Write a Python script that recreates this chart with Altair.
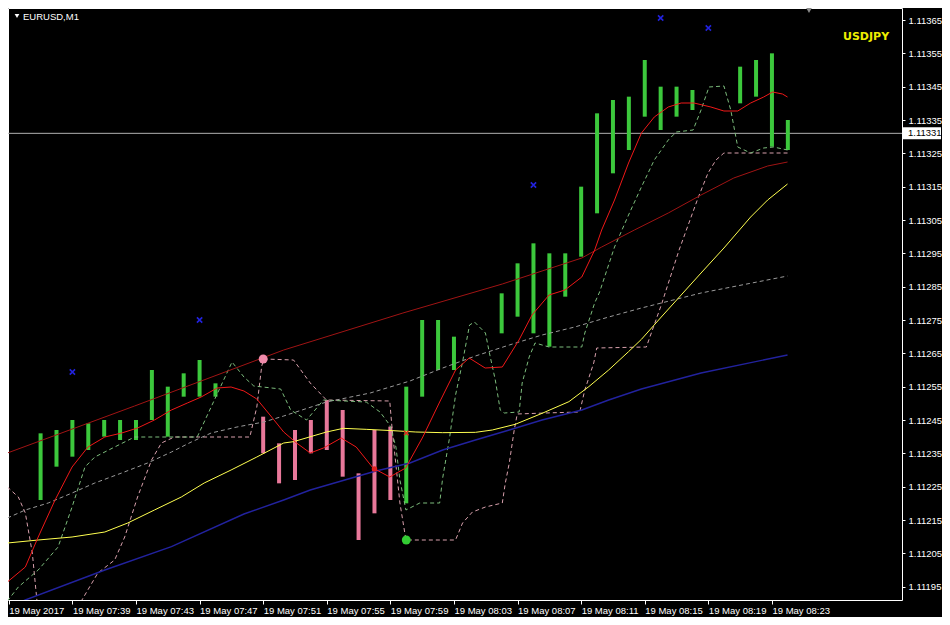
import json
import altair as alt
import pandas as pd

# ---------------- data (time = minutes after 19 May 2017 07:35, price = EURUSD) ----------------
x_tick_minutes = [0, 4, 8, 12, 16, 20, 24, 28, 32, 36, 40, 44, 48]
x_tick_labels = ["19 May 2017", "19 May 07:39", "19 May 07:43", "19 May 07:47", "19 May 07:51",
                 "19 May 07:55", "19 May 07:59", "19 May 08:03", "19 May 08:07", "19 May 08:11",
                 "19 May 08:15", "19 May 08:19", "19 May 08:23"]
y_ticks = [1.11195, 1.11205, 1.11215, 1.11225, 1.11235, 1.11245, 1.11255, 1.11265, 1.11275,
           1.11285, 1.11295, 1.11305, 1.11315, 1.11325, 1.11335, 1.11345, 1.11355, 1.11365]

bar_time = [2, 3, 4, 5, 6, 7, 8, 9, 10, 11, 12, 13, 16, 17, 18, 19, 20, 21, 22, 23, 24, 25, 26, 27, 28,
            31, 32, 33, 34, 35, 36, 37, 38, 39, 40, 41, 42, 43, 46, 47, 48, 49]
bar_open = [1.11221, 1.11231, 1.11234, 1.11236, 1.11240, 1.11239, 1.11239, 1.11245, 1.11240, 1.11252,
            1.11252, 1.11252, 1.11246, 1.11238, 1.11242, 1.11245, 1.11251, 1.11248, 1.11229, 1.11242,
            1.11243, 1.11220, 1.11252, 1.11260, 1.11260, 1.11271, 1.11276, 1.11271, 1.11267, 1.11282,
            1.11294, 1.11307, 1.11319, 1.11326, 1.11336, 1.11332, 1.11336, 1.11338, 1.11340, 1.11342,
            1.11327, 1.11326]
bar_close = [1.11241, 1.11242, 1.11245, 1.11244, 1.11245, 1.11245, 1.11245, 1.11260, 1.11255, 1.11259,
             1.11263, 1.11256, 1.11235, 1.11226, 1.11227, 1.11235, 1.11236, 1.11228, 1.11209, 1.11217,
             1.11221, 1.11255, 1.11275, 1.11275, 1.11270, 1.11283, 1.11292, 1.11298, 1.11295, 1.11295,
             1.11315, 1.11337, 1.11341, 1.11342, 1.11353, 1.11345, 1.11345, 1.11344, 1.11351, 1.11353,
             1.11355, 1.11335]

red_t = [-0.09, 1.04, 1.85, 2.91, 3.98, 4.98, 6.04, 7.10, 8.10, 9.16, 10.23, 11.23, 12.10, 13.10, 13.98,
         14.79, 15.60, 16.48, 17.29, 18.10, 18.96, 19.79, 20.91, 21.85, 22.91, 23.96, 24.96, 26.04, 27.10,
         28.10, 28.96, 29.96, 31.04, 32.09, 32.91, 33.98, 34.98, 36.04, 36.85, 37.29, 38.10, 38.98, 39.79,
         40.60, 41.48, 42.29, 43.10, 44.16, 44.98, 45.85, 46.66, 47.48, 48.04, 48.66, 48.98]
red_p = [1.111964, 1.112009, 1.112099, 1.112210, 1.112309, 1.112369, 1.112399, 1.112411, 1.112426, 1.112450,
         1.112480, 1.112501, 1.112519, 1.112546, 1.112549, 1.112537, 1.112513, 1.112462, 1.112414, 1.112381,
         1.112351, 1.112366, 1.112396, 1.112369, 1.112306, 1.112279, 1.112306, 1.112399, 1.112504, 1.112600,
         1.112636, 1.112606, 1.112609, 1.112690, 1.112765, 1.112825, 1.112840, 1.112879, 1.112960, 1.113020,
         1.113110, 1.113221, 1.113311, 1.113359, 1.113389, 1.113401, 1.113401, 1.113389, 1.113377, 1.113377,
         1.113401, 1.113419, 1.113434, 1.113428, 1.113419]

darkred_t = [-0.09, 7.91, 17.29, 24.79, 31.04, 36.04, 37.29, 39.35, 41.48, 43.54, 45.60, 47.73, 48.98]
darkred_p = [1.112351, 1.112492, 1.112660, 1.112771, 1.112858, 1.112936, 1.112969, 1.113020, 1.113071,
             1.113125, 1.113176, 1.113212, 1.113224]

yellow_t = [-0.09, 1.85, 3.98, 6.04, 7.48, 9.16, 10.85, 12.29, 13.98, 15.60, 17.29, 17.91, 19.98, 21.04,
            22.48, 24.16, 25.60, 27.29, 29.35, 30.41, 31.85, 33.54, 35.23, 36.48, 37.73, 38.98, 39.79,
            41.04, 43.54, 44.98, 46.66, 47.73, 48.98]
yellow_p = [1.112081, 1.112090, 1.112099, 1.112114, 1.112141, 1.112180, 1.112219, 1.112261, 1.112300,
            1.112339, 1.112381, 1.112385, 1.112414, 1.112425, 1.112422, 1.112418, 1.112414, 1.112412,
            1.112413, 1.112420, 1.112437, 1.112470, 1.112505, 1.112550, 1.112600, 1.112655, 1.112692,
            1.112759, 1.112891, 1.112966, 1.113059, 1.113110, 1.113158]

blue_t = [-0.09, 1.04, 6.04, 10.23, 14.79, 17.29, 18.96, 23.09, 25.23, 27.29, 29.35, 31.48, 33.54, 36.04,
          37.73, 39.79, 43.54, 48.98]
blue_p = [1.111889, 1.111910, 1.112000, 1.112070, 1.112168, 1.112210, 1.112240, 1.112297, 1.112321,
          1.112360, 1.112390, 1.112420, 1.112450, 1.112480, 1.112510, 1.112543, 1.112591, 1.112645]

grey_t = [-0.09, 1.04, 2.48, 3.98, 5.41, 7.10, 8.73, 10.23, 11.48, 12.73, 14.35, 16.04, 17.29, 19.98,
          22.73, 25.23, 27.29, 29.35, 31.48, 33.54, 35.60, 37.73, 39.79, 43.54, 48.98]
grey_p = [1.112156, 1.112180, 1.112201, 1.112231, 1.112261, 1.112291, 1.112321, 1.112354, 1.112384,
          1.112411, 1.112429, 1.112444, 1.112462, 1.112504, 1.112531, 1.112567, 1.112606, 1.112642,
          1.112675, 1.112705, 1.112729, 1.112759, 1.112786, 1.112831, 1.112882]

green_t = [-0.09, 0.60, 1.85, 3.10, 3.98, 4.79, 5.41, 6.66, 7.91, 11.85, 14.04, 14.79, 15.41, 17.10,
           17.73, 18.73, 19.79, 22.48, 23.35, 23.96, 24.35, 24.60, 24.98, 25.85, 27.10, 27.29, 27.73,
           28.10, 28.54, 28.98, 29.29, 29.98, 30.23, 30.60, 30.91, 31.16, 32.10, 32.29, 32.73, 33.10,
           33.98, 36.04, 36.23, 36.85, 37.16, 38.10, 38.98, 39.79, 40.60, 41.48, 41.98, 43.04, 43.54,
           44.04, 44.98, 45.41, 45.85, 46.66, 47.48, 48.10, 48.98]
green_p = [1.111907, 1.111949, 1.112000, 1.112069, 1.112189, 1.112309, 1.112339, 1.112369, 1.112399,
           1.112399, 1.112624, 1.112579, 1.112552, 1.112543, 1.112480, 1.112450, 1.112510, 1.112504,
           1.112474, 1.112435, 1.112369, 1.112270, 1.112180, 1.112201, 1.112201, 1.112276, 1.112399,
           1.112525, 1.112624, 1.112735, 1.112744, 1.112711, 1.112651, 1.112570, 1.112480, 1.112471,
           1.112474, 1.112561, 1.112639, 1.112681, 1.112669, 1.112669, 1.112711, 1.112801, 1.112834,
           1.112969, 1.113065, 1.113149, 1.113230, 1.113290, 1.113314, 1.113320, 1.113380, 1.113449,
           1.113452, 1.113380, 1.113269, 1.113251, 1.113266, 1.113269, 1.113260]

pink_t = [-0.09, 0.60, 1.04, 1.48, 1.79, 1.98, 4.41, 4.60, 5.60, 6.66, 7.29, 8.10, 8.98, 9.60, 10.41,
          15.16, 15.60, 15.91, 16.04, 17.91, 18.96, 19.98, 23.96, 24.10, 24.60, 24.98, 28.10, 28.54,
          29.16, 29.98, 31.04, 31.23, 31.48, 31.79, 31.98, 33.73, 35.91, 36.23, 36.79, 36.98, 40.10,
          41.04, 42.16, 43.35, 43.98, 44.48, 44.98, 48.98]
pink_p = [1.112249, 1.112219, 1.112171, 1.112051, 1.111898, 1.111820, 1.111820, 1.111910, 1.111991,
          1.112030, 1.112099, 1.112219, 1.112330, 1.112381, 1.112399, 1.112399, 1.112489, 1.112612,
          1.112633, 1.112630, 1.112561, 1.112510, 1.112507, 1.112429, 1.112201, 1.112090, 1.112090,
          1.112141, 1.112174, 1.112189, 1.112201, 1.112261, 1.112321, 1.112420, 1.112468, 1.112471,
          1.112474, 1.112540, 1.112621, 1.112666, 1.112669, 1.112795, 1.112960, 1.113116, 1.113191,
          1.113230, 1.113251, 1.113251]

cross_t = [4, 12, 33, 41, 44, 47]
cross_p = [1.112594, 1.112750, 1.113155, 1.113656, 1.113626, 1.113698]

pink_dot_t = [16]
pink_dot_p = [1.112633]
green_dot_t = [25]
green_dot_p = [1.112090]
red_dot_t = [23]
red_dot_p = [1.112303]
red_cross_t = [25]
red_cross_p = [1.112411]

current_price = [1.11331]
chart_symbol = ["EURUSD,M1"]
overlay_symbol = ["USDJPY"]

# ---------------- chart ----------------
FONT = "Liberation Sans"
W, H = 894, 592

x_scale = alt.Scale(domain=[-0.05, 56.18], nice=False, zero=False)
y_scale = alt.Scale(domain=[1.11191, 1.113686], nice=False, zero=False)

x_axis = alt.Axis(values=x_tick_minutes, labelExpr=json.dumps(x_tick_labels) + "[round(datum.value / 4)]",
                  title=None, grid=False, domain=False, ticks=True, tickSize=4, tickColor="#FFFFFF",
                  labelAlign="left", labelBaseline="top", labelPadding=1, labelColor="#FFFFFF",
                  labelFont=FONT, labelFontSize=9.5, labelOverlap=False, labelFlush=False, labelBound=False)
y_axis = alt.Axis(orient="right", values=y_ticks, format=".5f", title=None, grid=False, domain=False,
                  ticks=True, tickSize=3, tickColor="#FFFFFF", labelPadding=3, labelColor="#FFFFFF",
                  labelFont=FONT, labelFontSize=9.5, labelOverlap=False, labelFlush=False, labelBound=False)


def X(field="t"):
    return alt.X(f"{field}:Q", scale=x_scale, axis=x_axis)


def Y(field="p"):
    return alt.Y(f"{field}:Q", scale=y_scale, axis=y_axis)


def line_layer(ts, ps, color, width=1.0, dash=None):
    df = pd.DataFrame({"t": ts, "p": ps})
    kw = dict(color=color, strokeWidth=width, clip=True, interpolate="linear")
    if dash:
        kw["strokeDash"] = dash
    return alt.Chart(df).mark_line(**kw).encode(x=X(), y=Y(), order="t:Q")


bars_df = pd.DataFrame({"t": bar_time, "open": bar_open, "close": bar_close})
bars_df["dir"] = ["up" if c >= o else "down" for o, c in zip(bar_open, bar_close)]

price_df = pd.DataFrame({"p": current_price, "label": [f"{v:.5f}" for v in current_price]})

price_line = alt.Chart(price_df).mark_rule(color="#B0B0B0", strokeWidth=1).encode(y=Y())

bars = alt.Chart(bars_df).mark_rule(strokeWidth=4, strokeCap="butt", clip=True).encode(
    x=X(), y=Y("open"), y2="close:Q",
    color=alt.Color("dir:N", scale=alt.Scale(domain=["up", "down"], range=["#3CC83C", "#E8789A"]),
                    legend=None))

dash = [4, 3]
pink_line = line_layer(pink_t, pink_p, "#D8A0AC", 1, dash)
green_line = line_layer(green_t, green_p, "#7CBC7C", 1, dash)
grey_line = line_layer(grey_t, grey_p, "#9A9A9A", 1, dash)
blue_line = line_layer(blue_t, blue_p, "#22229E", 1.4)
darkred_line = line_layer(darkred_t, darkred_p, "#A01414", 1)
yellow_line = line_layer(yellow_t, yellow_p, "#FFFF50", 1)
red_line = line_layer(red_t, red_p, "#F01818", 1)

crosses = alt.Chart(pd.DataFrame({"t": cross_t, "p": cross_p})).mark_point(
    shape="M-1,-1L1,1M-1,1L1,-1", size=28, strokeWidth=1.6, color="#2222DD", filled=False, opacity=1,
    clip=True).encode(x=X(), y=Y())

pink_dot = alt.Chart(pd.DataFrame({"t": pink_dot_t, "p": pink_dot_p})).mark_circle(
    size=80, color="#F08AAA", opacity=1).encode(x=X(), y=Y())
green_dot = alt.Chart(pd.DataFrame({"t": green_dot_t, "p": green_dot_p})).mark_circle(
    size=80, color="#33CC33", opacity=1).encode(x=X(), y=Y())
red_dot = alt.Chart(pd.DataFrame({"t": red_dot_t, "p": red_dot_p})).mark_circle(
    size=30, color="#E02020", opacity=1).encode(x=X(), y=Y())
red_cross = alt.Chart(pd.DataFrame({"t": red_cross_t, "p": red_cross_p})).mark_point(
    shape="M-1,-1L1,1M-1,1L1,-1", size=20, strokeWidth=1.4, color="#E02020", filled=False, opacity=1
).encode(x=X(), y=Y())

price_box = alt.Chart(price_df).mark_rule(color="#FFFFFF", strokeWidth=12, clip=False).encode(
    x=alt.value(W + 1), x2=alt.value(W + 39), y=Y())
price_text = alt.Chart(price_df).mark_text(
    align="left", baseline="middle", color="#000000", font=FONT, fontSize=9.5, clip=False
).encode(x=alt.value(W + 6), y=Y(), text="label:N")

title_df = pd.DataFrame({"label": chart_symbol})
title_tri = alt.Chart(title_df).mark_point(shape="triangle-down", size=22, filled=True, color="#FFFFFF",
                                           opacity=1).encode(x=alt.value(9), y=alt.value(8))
title_text = alt.Chart(title_df).mark_text(align="left", baseline="middle", color="#FFFFFF", font=FONT,
                                           fontSize=9.5).encode(x=alt.value(15), y=alt.value(9),
                                                                text="label:N")
overlay_text = alt.Chart(pd.DataFrame({"label": overlay_symbol})).mark_text(
    align="left", baseline="middle", color="#EEEE00", font="DejaVu Sans", fontWeight="bold", fontSize=11
).encode(x=alt.value(W - 59), y=alt.value(29), text="label:N")
shift_tri = alt.Chart(title_df).mark_point(shape="triangle-down", size=45, filled=True, color="#8A8A8A",
                                           opacity=1).encode(x=alt.value(W - 93), y=alt.value(2))

chart = alt.layer(
    price_line, bars, pink_line, green_line, grey_line, blue_line, darkred_line, yellow_line, red_line,
    crosses, pink_dot, green_dot, red_dot, red_cross, price_box, price_text,
    title_tri, title_text, overlay_text, shift_tri,
).properties(
    width=W, height=H,
    autosize=alt.AutoSizeParams(type="none"),
    padding={"left": 0, "top": 0, "right": 40, "bottom": 17},
).configure(
    background="#000000",
).configure_view(
    stroke="#FFFFFF", strokeWidth=1,
)

chart.save("out.html", embed_options={"renderer": "svg", "actions": False})
